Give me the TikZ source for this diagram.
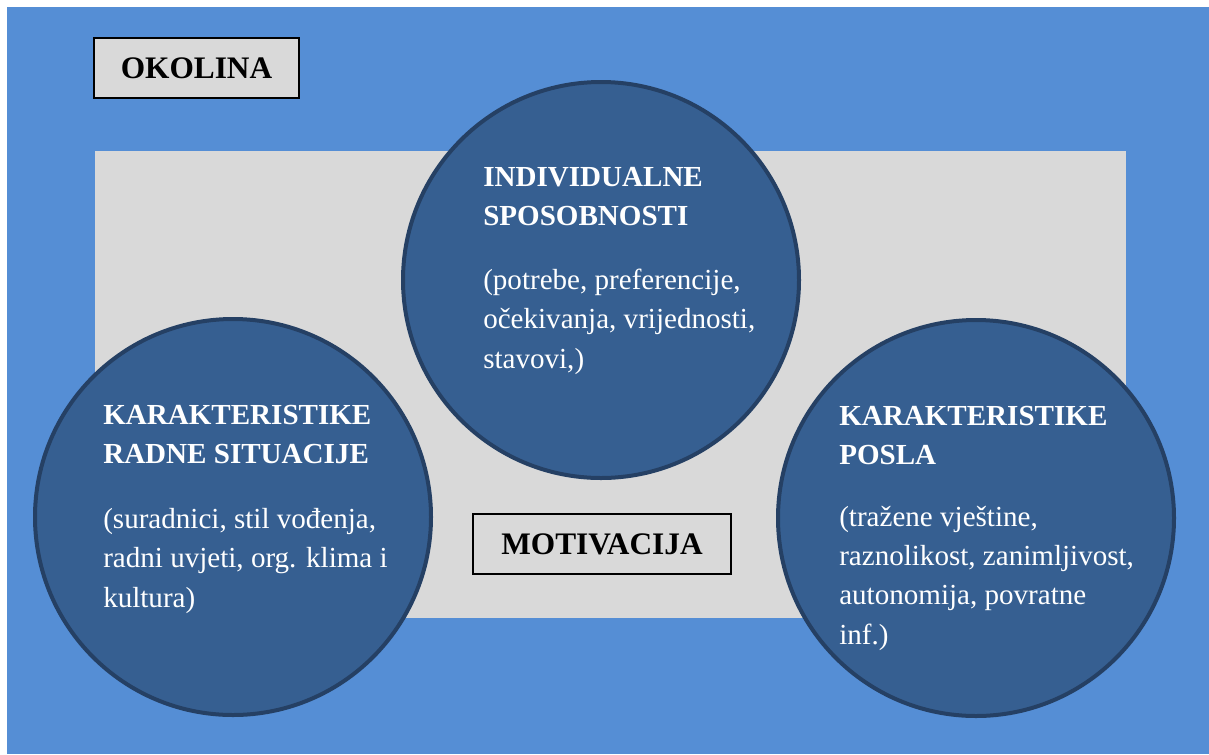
\documentclass[tikz,border=0pt]{standalone}
\usepackage{fontspec}
\setmainfont{Liberation Serif}
\usepackage{tikz}
\usetikzlibrary{shapes}

\definecolor{bgBlue}{RGB}{85,142,213}
\definecolor{panelGray}{RGB}{217,217,217}
\definecolor{bubbleFill}{RGB}{54,95,145}
\definecolor{bubbleLine}{RGB}{37,64,100}

\tikzset{
  bubble/.style={circle, draw=bubbleLine, fill=bubbleFill, line width=3pt, minimum size=297pt, inner sep=0pt},
  tagbox/.style={draw=black, fill=panelGray, line width=1.5pt, inner sep=0pt, font=\fontsize{23.5}{28}\selectfont\bfseries},
  bubbletitle/.style={anchor=base west, inner sep=0pt, align=left, text=white, font=\fontsize{21.8}{28.8}\selectfont\bfseries},
  bubbletext/.style={anchor=base west, inner sep=0pt, align=left, text=white, font=\fontsize{21.8}{29.3}\selectfont}
}

\begin{document}
\begin{tikzpicture}[x=0.75pt,y=-0.75pt]
\useasboundingbox (0,0) rectangle (1209,754);
\fill[bgBlue] (7,7) rectangle (1209,754);
\fill[panelGray] (95,151) rectangle (1126,618);
% labels for the surroundings and the centre
\node[tagbox, minimum width=153.75pt, minimum height=45pt] (okolina) at (196.5,68) {OKOLINA};
\node[tagbox, minimum width=193.5pt, minimum height=45pt] (motivacija) at (602,544) {MOTIVACIJA};
% the three factors (text placed at the baseline of its last line)
\node[bubble] (indiv) at (601,280) {};
\node[bubble] (situacija) at (233,517) {};
\node[bubble] (posao) at (976,518) {};
\node[bubbletitle] (indivT) at (483,225) {INDIVIDUALNE\\SPOSOBNOSTI};
\node[bubbletext] (indivB) at (483,368) {(potrebe, preferencije,\\očekivanja, vrijednosti,\\stavovi,)};
\node[bubbletitle] (situacijaT) at (103,463) {KARAKTERISTIKE\\RADNE SITUACIJE};
\node[bubbletext] (situacijaB) at (103,607) {(suradnici, stil vođenja,\\radni uvjeti, org. klima i\\kultura)};
\node[bubbletitle] (posaoT) at (839,464) {KARAKTERISTIKE\\POSLA};
\node[bubbletext] (posaoB) at (839,644) {(tražene vještine,\\raznolikost, zanimljivost,\\autonomija, povratne\\inf.)};
\end{tikzpicture}
\end{document}
